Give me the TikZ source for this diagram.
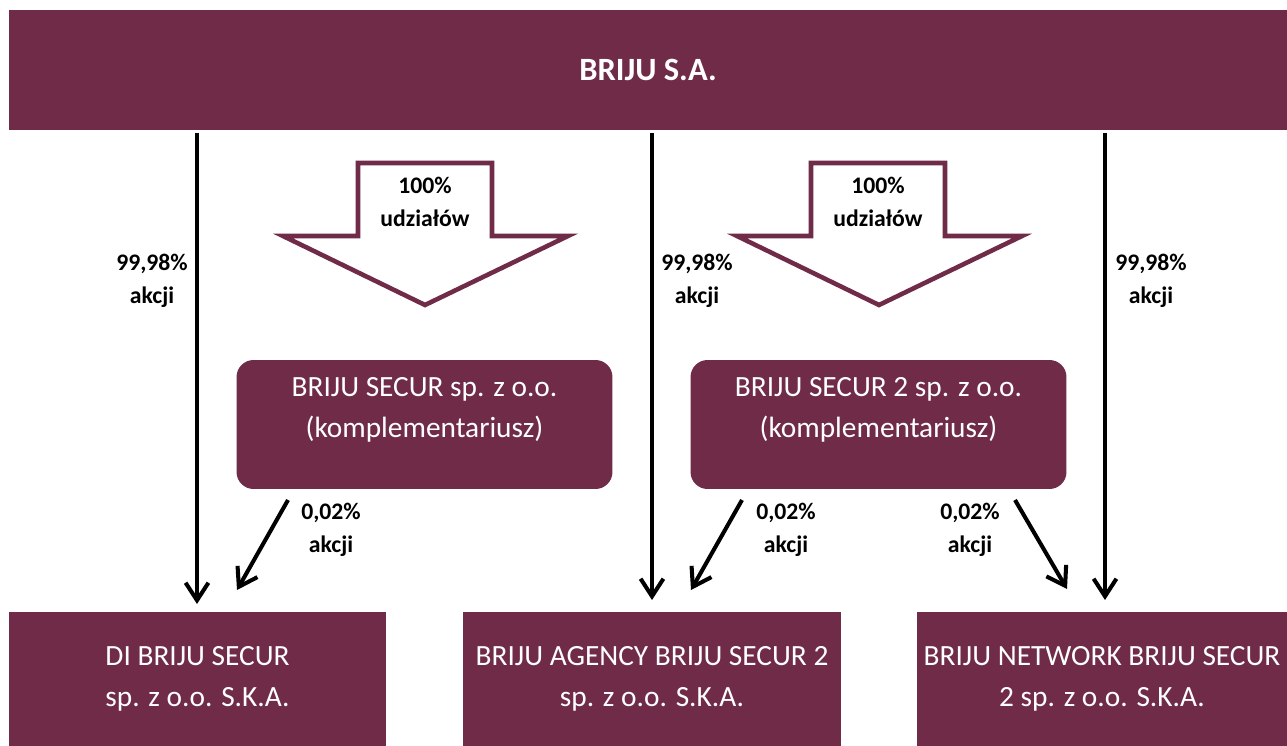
\documentclass[tikz,border=0pt]{standalone}
\usepackage{fontspec}
\setmainfont{Carlito}
\usetikzlibrary{arrows.meta}
\usetikzlibrary{positioning}
\definecolor{briju}{RGB}{111,43,71}

\begin{document}
\begin{tikzpicture}[x=0.02cm,y=-0.02cm,
  firm/.style={rectangle,fill=briju,text=white,inner sep=0pt,align=center,font=\fontsize{16.7}{23}\selectfont},
  holding/.style={rectangle,rounded corners=0.34cm,fill=briju,inner sep=0pt,minimum width=7.52cm,minimum height=2.58cm},
  share/.style={font=\fontsize{13.5}{18.7}\selectfont\bfseries,align=center,inner sep=0pt},
  arr/.style={line width=2.3pt,-{Straight Barb[length=10pt,width=13pt]}},
  bigarrow/.style={draw=briju,fill=white,line width=2.6pt,line join=miter}]
\useasboundingbox (0,0) rectangle (1287,746);

\node[firm,font=\fontsize{18.5}{23}\selectfont\bfseries,minimum width=25.56cm,minimum height=2.4cm] (top) at (648,70) {BRIJU S.A.};

\node[holding] (h1) at (424.5,424.5) {};
\node[firm] (h1t) at (424.5,410) {BRIJU SECUR sp. z o.o.\\(komplementariusz)};
\node[holding] (h2) at (878.5,424.5) {};
\node[firm] (h2t) at (878.5,410) {BRIJU SECUR 2 sp. z o.o.\\(komplementariusz)};

\node[firm,minimum width=7.54cm,minimum height=2.68cm] (b1) at (197.5,679) {DI BRIJU SECUR\\sp. z o.o. S.K.A.};
\node[firm,minimum width=7.56cm,minimum height=2.68cm] (b2) at (652,679) {BRIJU AGENCY BRIJU SECUR 2\\sp. z o.o. S.K.A.};
\node[firm,minimum width=7.4cm,minimum height=2.68cm] (b3) at (1102,679) {BRIJU NETWORK BRIJU SECUR\\2 sp. z o.o. S.K.A.};

% big arrows
\draw[bigarrow] (358,163) -- (492,163) -- (492,236) -- (568,236) -- (425,305) -- (283,236) -- (358,236) -- cycle;
\node[share] (u1) at (425,202) {100\%\\udziałów};
\draw[bigarrow] (811,163) -- (945,163) -- (945,236) -- (1022,236) -- (879,305) -- (737,236) -- (811,236) -- cycle;
\node[share] (u2) at (878,202) {100\%\\udziałów};

% vertical arrows
\coordinate (v1a) at (197,133);
\coordinate (v1b) at (197,604);
\coordinate (v2a) at (652,133);
\coordinate (v2b) at (652,600);
\coordinate (v3a) at (1105,133);
\coordinate (v3b) at (1105,600);
\draw[arr] (v1a) -- (v1b);
\draw[arr] (v2a) -- (v2b);
\draw[arr] (v3a) -- (v3b);
\node[share] (p1) at (152,281) {99,98\%\\akcji};
\node[share] (p2) at (697,281) {99,98\%\\akcji};
\node[share] (p3) at (1151,281) {99,98\%\\akcji};

% diagonal arrows
\coordinate (d1a) at (288,500);
\coordinate (d1b) at (237,590);
\coordinate (d2a) at (742,500);
\coordinate (d2b) at (691,590);
\coordinate (d3a) at (1015,500);
\coordinate (d3b) at (1067,589);
\draw[arr] (d1a) -- (d1b);
\draw[arr] (d2a) -- (d2b);
\draw[arr] (d3a) -- (d3b);
\node[share] (q1) at (331,530) {0,02\%\\akcji};
\node[share] (q2) at (786,530) {0,02\%\\akcji};
\node[share] (q3) at (970,530) {0,02\%\\akcji};

\end{tikzpicture}
\end{document}
